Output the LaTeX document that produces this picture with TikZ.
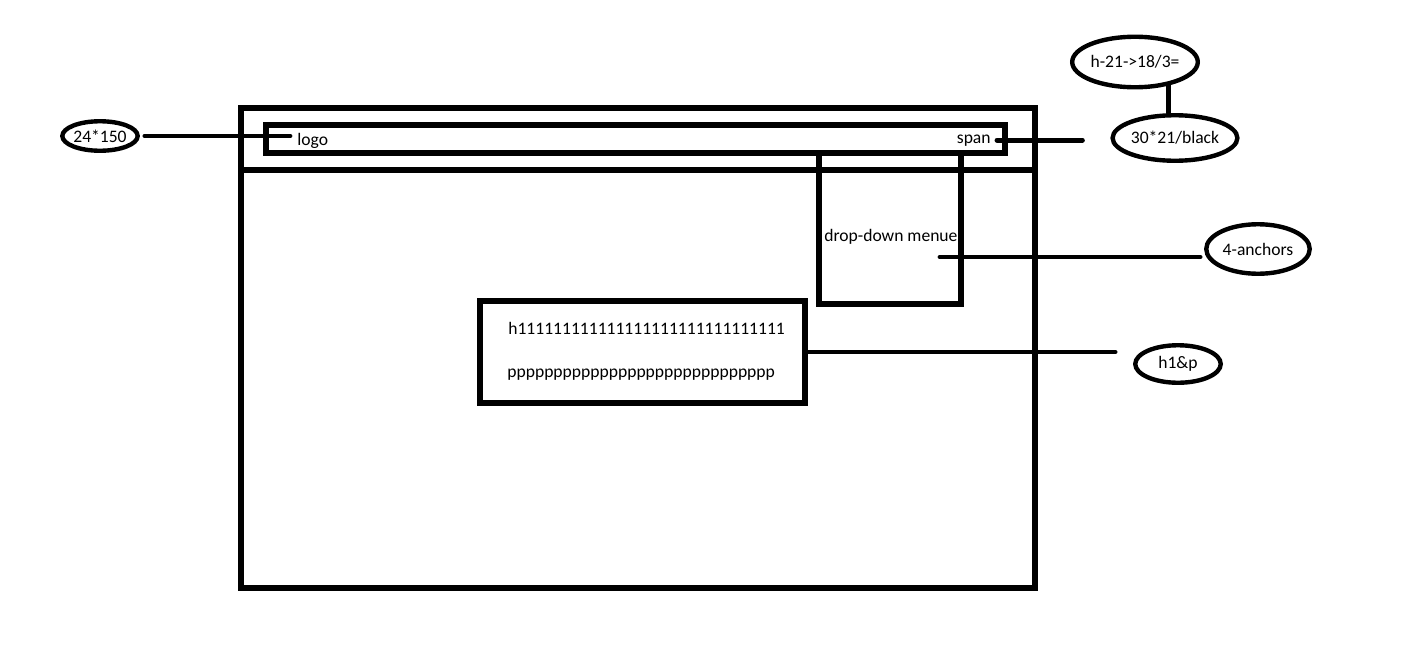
\documentclass[tikz,border=0pt]{standalone}
\usepackage{fontspec}
\setmainfont{Carlito}
\usetikzlibrary{shapes.geometric}

\begin{document}
\begin{tikzpicture}[
  x=0.2mm, y=-0.2mm,
  frame/.style={draw, line width=3pt},
  tag/.style={ellipse, draw, line width=2.5pt, inner sep=0pt, font=\fontsize{10}{12}\selectfont},
  lbl/.style={inner sep=0pt, anchor=base west, font=\fontsize{10}{12}\selectfont},
  wire/.style={line width=2.8pt, line cap=round}
]
\useasboundingbox (0,0) rectangle (1407,653);

\draw[frame] (241,108) rectangle (1035,588);
\draw[frame] (241,170) -- (1035,170);
\draw[frame] (266,125) rectangle (1005,153);
\draw[frame] (819,153) -- (819,304) -- (961,304) -- (961,153);
\node[frame, minimum width=65mm, minimum height=20.4mm] (textbox) at (642.5,352) {};

\node[lbl] (logo) at (297,145) {logo};
\node[lbl, anchor=base east] (span) at (991,143) {span};
\node[lbl] (menu) at (824,241) {drop-down menue};
\node[lbl] (hone) at (508,334) {h111111111111111111111111111111};
\node[lbl] (para) at (507,377) {ppppppppppppppppppppppppppppp};

\node[tag, minimum width=14.7mm, minimum height=5.9mm] (size) at (100,136) {24*150};
\node[tag, minimum width=24.5mm, minimum height=10.1mm] (rule) at (1135,62) {h-21->18/3=};
\node[tag, minimum width=23.9mm, minimum height=9.1mm] (wide) at (1175,138) {30*21/black};
\node[tag, minimum width=20.7mm, minimum height=9.9mm] (anchors) at (1258,249) {4-anchors};
\node[tag, minimum width=17.1mm, minimum height=7.5mm] (hp) at (1178,364) {h1\&p};

\coordinate (drop) at (940,257);

\draw[wire, shorten <=1mm, shorten >=1.4mm] (size.east) -- (size.east -| logo.west);
\draw[wire, shorten <=1.2mm, shorten >=5.6mm] (span.east) -- (span.east -| wide.west);
\draw[wire] (rule.-35) -- (rule.-35 |- wide.north);
\draw[wire, shorten >=0.8mm] (drop) -- (drop -| anchors.west);
\draw[wire, shorten >=3.6mm] (textbox.east) -- (textbox.east -| hp.west);
\end{tikzpicture}
\end{document}
